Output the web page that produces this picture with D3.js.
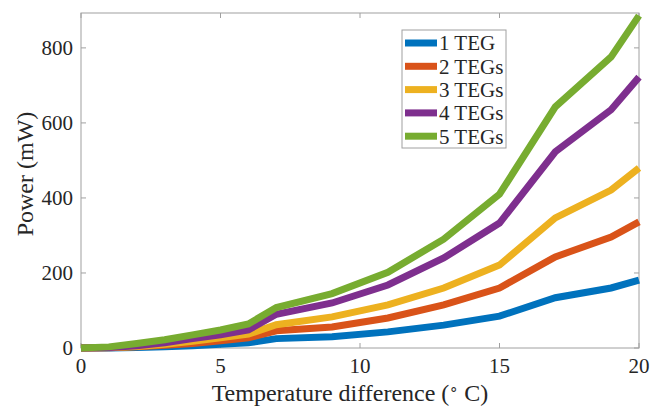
<!DOCTYPE html>
<html>
<head>
<meta charset="utf-8">
<script src="https://cdn.jsdelivr.net/npm/d3@7"></script>
<style>
  body { margin: 0; background: #fff; }
  text { font-family: "Liberation Serif", "Times New Roman", serif; fill: #262626; }
</style>
</head>
<body>
<div id="chart"></div>
<script>
// Power vs temperature difference for 1..5 TEGs
const tempDiff = [0, 1, 2, 3, 4, 5, 6, 7, 9, 11, 13, 15, 17, 19, 20];
const teg1 = [0, 0, 1, 3, 6, 10, 14, 25, 30, 43, 61, 85, 134, 160, 181];
const teg2 = [0, 0.5, 3, 7, 12, 19, 27, 46, 56, 80, 115, 160, 243, 296, 336];
const teg3 = [0, 1, 4, 10, 18, 27, 37, 62, 83, 115, 160, 221, 347, 421, 480];
const teg4 = [0, 1, 6, 14, 25, 35, 48, 90, 120, 168, 240, 333, 523, 635, 722];
const teg5 = [0, 3, 12, 22, 35, 48, 64, 108, 145, 202, 290, 410, 643, 776, 886];
const seriesNames = ['1 TEG', '2 TEGs', '3 TEGs', '4 TEGs', '5 TEGs'];
const seriesColors = ['#0072BD', '#D95319', '#EDB120', '#7E2F8E', '#77AC30'];
const xTicks = [0, 5, 10, 15, 20];
const yTicks = [0, 200, 400, 600, 800];

const allSeries = [teg1, teg2, teg3, teg4, teg5];

const W = 662, H = 412;
const margin = { top: 13, right: 23, bottom: 64, left: 81 };
const width = W - margin.left - margin.right;
const height = H - margin.top - margin.bottom;

const svg = d3.select('#chart').append('svg')
  .attr('width', W)
  .attr('height', H);

const g = svg.append('g')
  .attr('transform', `translate(${margin.left},${margin.top})`);

const x = d3.scaleLinear().domain([0, 20]).range([0, width]);
const y = d3.scaleLinear().domain([0, 893]).range([height, 0]);

const axisColor = '#a0a0a0';

// box
g.append('rect')
  .attr('width', width)
  .attr('height', height)
  .attr('fill', 'none')
  .attr('stroke', axisColor)
  .attr('stroke-width', 1);

// inward ticks
const tickLen = 5;
xTicks.forEach(t => {
  g.append('line').attr('x1', x(t)).attr('x2', x(t)).attr('y1', height).attr('y2', height - tickLen)
    .attr('stroke', axisColor);
  g.append('line').attr('x1', x(t)).attr('x2', x(t)).attr('y1', 0).attr('y2', tickLen)
    .attr('stroke', axisColor);
  g.append('text')
    .attr('x', x(t))
    .attr('y', height + 25)
    .attr('text-anchor', 'middle')
    .style('font-size', '21px')
    .text(t);
});
yTicks.forEach(t => {
  g.append('line').attr('x1', 0).attr('x2', tickLen).attr('y1', y(t)).attr('y2', y(t))
    .attr('stroke', axisColor);
  g.append('line').attr('x1', width).attr('x2', width - tickLen).attr('y1', y(t)).attr('y2', y(t))
    .attr('stroke', axisColor);
  g.append('text')
    .attr('x', -8)
    .attr('y', y(t))
    .attr('dy', '0.35em')
    .attr('text-anchor', 'end')
    .style('font-size', '21px')
    .text(t);
});

// lines
const line = d3.line()
  .x((d, i) => x(tempDiff[i]))
  .y(d => y(d));

allSeries.forEach((s, i) => {
  g.append('path')
    .datum(s)
    .attr('d', line)
    .attr('fill', 'none')
    .attr('stroke', seriesColors[i])
    .attr('stroke-width', 7)
    .attr('stroke-linejoin', 'miter');
});

// axis labels
const xl = svg.append('text')
  .attr('x', 350)
  .attr('y', 401)
  .attr('text-anchor', 'middle')
  .style('font-size', '24px');
xl.append('tspan').text('Temperature difference (');
xl.append('tspan').attr('dy', -7).style('font-size', '15px').text('\u2218');
xl.append('tspan').attr('dy', 7).text(' C)');

svg.append('text')
  .attr('transform', 'translate(33,174) rotate(-90)')
  .attr('text-anchor', 'middle')
  .style('font-size', '24px')
  .text('Power (mW)');

// legend
const legend = svg.append('g').attr('transform', 'translate(402,30)');
legend.append('rect')
  .attr('width', 104)
  .attr('height', 118)
  .attr('fill', '#fff')
  .attr('stroke', axisColor);

seriesNames.forEach((name, i) => {
  const ly = 13 + i * 23.3;
  legend.append('line')
    .attr('x1', 3).attr('x2', 35)
    .attr('y1', ly).attr('y2', ly)
    .attr('stroke', seriesColors[i])
    .attr('stroke-width', 7);
  legend.append('text')
    .attr('x', 37)
    .attr('y', ly)
    .attr('dy', '0.35em')
    .style('font-size', '21px')
    .text(name);
});
</script>
</body>
</html>
